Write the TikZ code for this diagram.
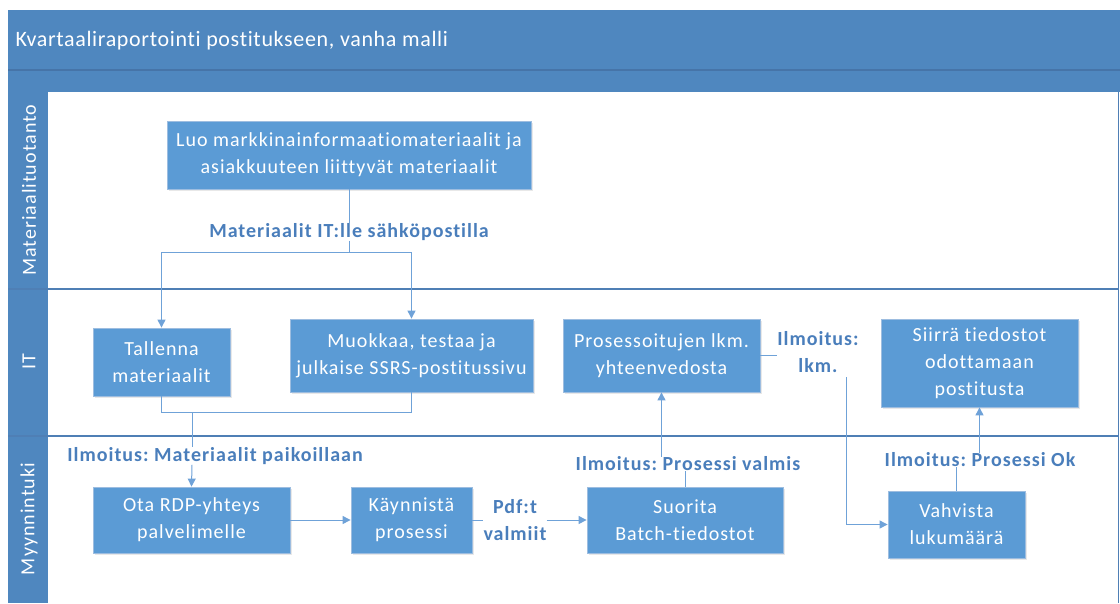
\documentclass[tikz,border=0pt]{standalone}
\usepackage{fontspec}
\setmainfont{Carlito}[LetterSpace=5, Ligatures=NoCommon]
\newfontfamily\titlefont{Carlito}[LetterSpace=3, Ligatures=NoCommon]
\usetikzlibrary{arrows.meta,shadows}
\definecolor{barblue}{HTML}{4F87BF}
\definecolor{barline}{HTML}{4674A8}
\definecolor{boxblue}{HTML}{5B9BD5}
\definecolor{boxedge}{HTML}{9DBDE0}
\definecolor{labblue}{HTML}{4A7EBB}
\definecolor{wireblue}{HTML}{6FA2D8}
\definecolor{laneline}{HTML}{4F7FB5}
\frenchspacing
\tikzset{
  stepbox/.style={rectangle, fill=boxblue, draw=boxedge, line width=0.8pt,
    text=white, align=center, font=\fontsize{20}{27}\selectfont, inner sep=2pt,
    drop shadow={opacity=0.18, shadow xshift=1.5pt, shadow yshift=-1.5pt}},
  flowlabel/.style={text=labblue, align=center, inner sep=0pt,
    font=\bfseries\fontsize{20}{27}\selectfont},
  lanetitle/.style={text=white, rotate=90, font=\fontsize{20}{24}\selectfont},
  wire/.style={draw=wireblue, line width=1pt},
  flow/.style={wire, -{Triangle[length=8pt,width=8pt]}},
}
\begin{document}
\begin{tikzpicture}[x=1pt,y=-1pt]
\useasboundingbox (0,0) rectangle (1120,603);
% header
\fill[barblue] (8,10) rectangle (1120,92);
\draw[barline, line width=1.2pt] (8,70) -- (1120,70);
\node[anchor=west, text=white, font=\titlefont\fontsize{22}{26}\selectfont] (title) at (12,41)
  {Kvartaaliraportointi postitukseen, vanha malli};
% lanes
\fill[barblue] (8,92) rectangle (48,603);
\draw[laneline, line width=0.8pt] (1118,92) -- (1118,603);
\draw[laneline, line width=1.2pt] (8,289) -- (1118,289);
\draw[laneline, line width=1.2pt] (8,436) -- (1118,436);
\node[lanetitle] (lane1) at (29,190) {Materiaalituotanto};
\node[lanetitle] (lane2) at (29,362) {IT};
\node[lanetitle] (lane3) at (29,519) {Myynnintuki};
% process steps
\node[stepbox, minimum width=364pt, minimum height=68pt] (luo) at (349,155)
  {Luo markkinainformaatiomateriaalit ja\\asiakkuuteen liittyvät materiaalit};
\node[stepbox, minimum width=137pt, minimum height=68pt] (tal) at (161.5,362)
  {Tallenna\\materiaalit};
\node[stepbox, minimum width=243pt, minimum height=73pt] (muo) at (411.5,355.5)
  {Muokkaa, testaa ja\\julkaise SSRS-postitussivu};
\node[stepbox, minimum width=197pt, minimum height=73pt] (pro) at (661.5,355.5)
  {Prosessoitujen lkm.\\yhteenvedosta};
\node[stepbox, minimum width=197pt, minimum height=88pt] (sii) at (979.5,363)
  {Siirrä tiedostot\\odottamaan\\postitusta};
\node[stepbox, minimum width=197pt, minimum height=66pt] (ota) at (191.5,520)
  {Ota RDP-yhteys\\palvelimelle};
\node[stepbox, minimum width=121pt, minimum height=66pt] (kay) at (411.5,520)
  {Käynnistä\\prosessi};
\node[stepbox, minimum width=196pt, minimum height=66pt] (suo) at (685,520)
  {Suorita\\Batch-tiedostot};
\node[stepbox, minimum width=137pt, minimum height=67pt] (vah) at (956.5,524.5)
  {Vahvista\\lukumäärä};
% messages
\node[flowlabel] (lmat) at (349,232) {Materiaalit IT:lle sähköpostilla};
\node[flowlabel] (lpai) at (215,456) {Ilmoitus: Materiaalit paikoillaan};
\node[flowlabel] (lpdf) at (515,520) {Pdf:t\\valmiit};
\node[flowlabel] (lval) at (688,464) {Ilmoitus: Prosessi valmis};
\node[flowlabel] (llkm) at (818,352) {Ilmoitus:\\lkm.};
\node[flowlabel] (lok) at (980,460) {Ilmoitus: Prosessi Ok};
% connectors
\coordinate (split) at (349,252);
\coordinate (join) at (192,412);
\coordinate (lkmout) at (846,377);
\draw[wire] (luo.south) -- (lmat.north);
\draw[wire] (lmat.south) -- (split);
\draw[flow] (split) -| (tal.north);
\draw[flow] (split) -| (muo.north);
\draw[wire] (tal.south) |- (join);
\draw[wire] (muo.south) |- (join);
\draw[wire] (join) -- (join |- lpai.north);
\draw[flow] (join |- lpai.south) -- (ota.north);
\draw[flow] (ota.east) -- (kay.west);
\draw[wire] (kay.east) -- (lpdf.west);
\draw[flow] (lpdf.east) -- (suo.west);
\draw[wire] (suo.north) -- (suo.north |- lval.south);
\draw[flow] (pro.south |- lval.north) -- (pro.south);
\draw[wire] (pro.east) -- (pro.east -| llkm.west);
\draw[flow] (lkmout) |- (vah.west);
\draw[wire] (vah.north) -- (vah.north |- lok.south);
\draw[flow] (sii.south |- lok.north) -- (sii.south);
\end{tikzpicture}
\end{document}
